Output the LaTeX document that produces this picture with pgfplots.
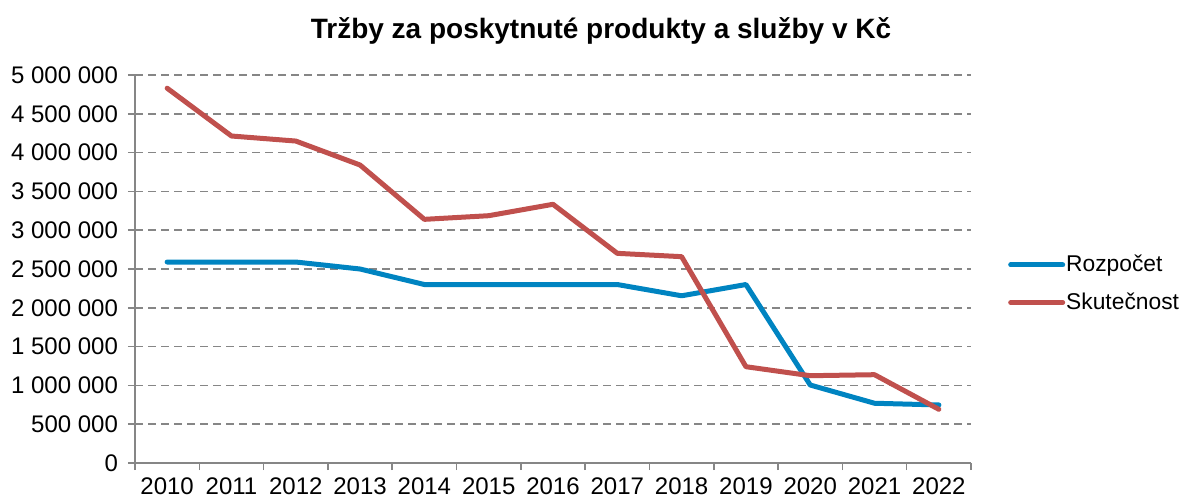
\documentclass[border=0pt]{standalone}
\usepackage{fontspec}
\setmainfont{Liberation Sans}
\usepackage{pgfplots}
\pgfplotsset{compat=1.18}
\definecolor{cblue}{RGB}{0,132,193}
\definecolor{cred}{RGB}{192,80,77}
\definecolor{cgrid}{RGB}{134,134,134}
\begin{document}
\begin{tikzpicture}
\path[use as bounding box] (0,0) rectangle (591pt,249.5pt);
\node[font=\fontsize{14}{16}\selectfont\bfseries] at (300.5pt,234pt) {Tržby za poskytnuté produkty a služby v Kč};
\begin{axis}[
 at={(67.5pt,18pt)}, anchor=south west,
 scale only axis, width=418pt, height=194pt,
 xmin=-0.5, xmax=12.5, ymin=0, ymax=5000000,
 scaled y ticks=false,
 axis x line*=bottom, axis y line*=left,
 axis line style={cgrid, line width=0.75pt, -},
 xtick={-0.5,0.5,...,12.5},
 x tick label as interval,
 xticklabels={2010,2011,2012,2013,2014,2015,2016,2017,2018,2019,2020,2021,2022},
 ytick={0,500000,...,5000000},
 yticklabels={0,500 000,1 000 000,1 500 000,2 000 000,2 500 000,3 000 000,3 500 000,4 000 000,4 500 000,5 000 000},
 ymajorgrids,
 major grid style={cgrid, dash pattern=on 4pt off 2.5pt, line width=0.75pt},
 tick align=outside, tick style={cgrid, line width=0.75pt},
 major tick length=3.5pt,
 ticklabel style={font=\fontsize{12}{14}\selectfont},
 yticklabel style={xshift=-1.5pt},
 xticklabel style={yshift=-0.5pt},
 legend style={draw=none, fill=none, at={(1.044,0.462)}, anchor=west,
   font=\fontsize{11.4}{13}\selectfont, row sep=8pt, inner sep=0pt,
   nodes={inner sep=0.5pt}},
 legend cell align=left,
 legend image code/.code={\draw[#1,line cap=round] (0pt,0pt) -- (26pt,0pt);},
]
\addplot[cblue, line width=2.5pt, line join=round, line cap=round] coordinates {
(0,2590000) (1,2590000) (2,2590000) (3,2500000) (4,2300000) (5,2300000) (6,2300000)
(7,2300000) (8,2155000) (9,2300000) (10,1005000) (11,770000) (12,748000)};
\addlegendentry{Rozpočet}
\addplot[cred, line width=2.5pt, line join=round, line cap=round] coordinates {
(0,4830000) (1,4214000) (2,4149000) (3,3840000) (4,3140000) (5,3187000) (6,3334000)
(7,2702000) (8,2659000) (9,1241000) (10,1125000) (11,1138000) (12,692000)};
\addlegendentry{Skutečnost}
\end{axis}
\end{tikzpicture}
\end{document}
